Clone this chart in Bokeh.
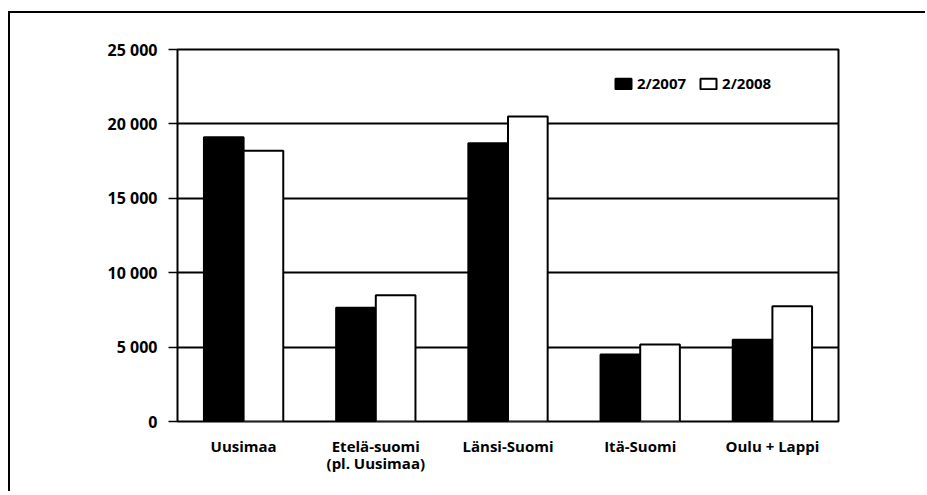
from bokeh.plotting import figure
from bokeh.models import (ColumnDataSource, FactorRange, Range1d, FixedTicker,
                          Legend, LegendItem)
from bokeh.transform import dodge
from bokeh.embed import file_html
from bokeh.resources import INLINE

# ---- data ----
categories = ["Uusimaa", "Etelä-suomi\n(pl. Uusimaa)", "Länsi-Suomi", "Itä-Suomi", "Oulu + Lappi"]
series_names = ["2/2007", "2/2008"]
values_2007 = [19100, 7650, 18700, 4500, 5500]
values_2008 = [18200, 8480, 20500, 5180, 7750]
y_ticks = [0, 5000, 10000, 15000, 20000, 25000]
y_tick_labels = ["0", "5 000", "10 000", "15 000", "20 000", "25 000"]

FONT = "Open Sans"

src = ColumnDataSource(dict(cat=categories, v2007=values_2007, v2008=values_2008))

p = figure(
    x_range=FactorRange(factors=categories, range_padding=0),
    y_range=Range1d(0, 25000),
    width=917, height=480,
    output_backend="svg", toolbar_location=None,
    min_border_left=167, min_border_right=89,
    min_border_top=36, min_border_bottom=72,
    styles={"box-shadow": "-2px -2px 0px 0px black",
            "margin-top": "13px", "margin-left": "10px"},
)
p.background_fill_color = "white"
p.border_fill_color = "white"
p.outline_line_color = "black"
p.outline_line_width = 2

r1 = p.vbar(x=dodge("cat", -0.15, range=p.x_range), top="v2007", width=0.3,
            source=src, fill_color="black", line_color="black", line_width=2)
r2 = p.vbar(x=dodge("cat", 0.15, range=p.x_range), top="v2008", width=0.3,
            source=src, fill_color="white", line_color="black", line_width=2)

# grid
p.xgrid.grid_line_color = None
p.ygrid.grid_line_color = "black"
p.ygrid.grid_line_width = 2
p.ygrid.ticker = FixedTicker(ticks=y_ticks)

# y axis
p.yaxis.ticker = FixedTicker(ticks=y_ticks)
p.yaxis.major_label_overrides = {t: l for t, l in zip(y_ticks, y_tick_labels)}
p.yaxis.axis_line_color = None
p.yaxis.major_tick_line_color = "black"
p.yaxis.major_tick_line_width = 1.5
p.yaxis.major_tick_out = 9
p.yaxis.major_tick_in = 0
p.yaxis.minor_tick_line_color = None
p.yaxis.major_label_standoff = 11
p.yaxis.major_label_text_font = FONT
p.yaxis.major_label_text_font_style = "bold"
p.yaxis.major_label_text_font_size = "16px"
p.yaxis.major_label_text_color = "black"

# x axis
p.xaxis.axis_line_color = None
p.xaxis.major_tick_line_color = None
p.xaxis.minor_tick_line_color = None
p.xaxis.major_label_standoff = 8
p.xaxis.major_label_text_font = FONT
p.xaxis.major_label_text_font_style = "bold"
p.xaxis.major_label_text_font_size = "15px"
p.xaxis.major_label_text_line_height = 0.85
p.xaxis.major_label_text_color = "black"
p.xaxis.major_label_text_align = "left"

# legend
legend = Legend(
    items=[LegendItem(label=series_names[0], renderers=[r1]),
           LegendItem(label=series_names[1], renderers=[r2])],
    orientation="horizontal",
    location=(436, 328),
    padding=0, margin=0, spacing=12,
    glyph_width=20, glyph_height=13,
    label_standoff=4, label_height=14,
    label_text_font=FONT, label_text_font_size="15px",
    label_text_font_style="bold",
    label_text_color="black",
    border_line_color=None, background_fill_alpha=0,
)
p.add_layout(legend, "center")

open("out.html", "w").write(file_html(p, INLINE))
